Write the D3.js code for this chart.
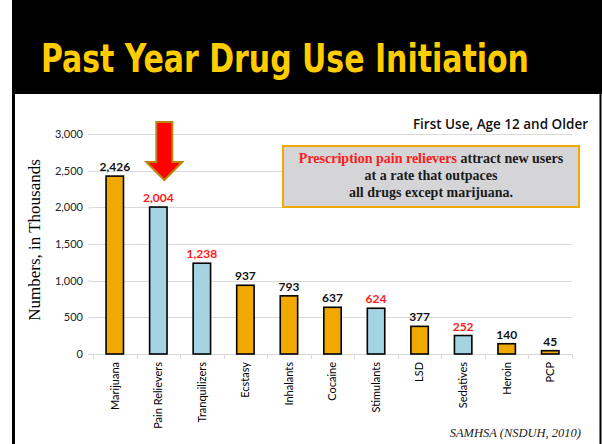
<!DOCTYPE html>
<html><head><meta charset="utf-8">
<script src="https://cdn.jsdelivr.net/npm/d3@7"></script>
<style>body{margin:0;background:#fff}svg{display:block}</style>
</head><body>
<svg id="c" width="602" height="444"></svg>
<script>
const categories = ["Marijuana","Pain Relievers","Tranquilizers","Ecstasy","Inhalants","Cocaine","Stimulants","LSD","Sedatives","Heroin","PCP"];
const values = [2426,2004,1238,937,793,637,624,377,252,140,45];
const highlighted = [false,true,true,false,false,false,true,false,true,false,false];
const yTicks = [0,500,1000,1500,2000,2500,3000];
const titleText = "Past Year Drug Use Initiation";
const subtitleText = "First Use, Age 12 and Older";
const noteLines = [["Prescription pain relievers"," attract new users"],["","at a rate that outpaces"],["","all drugs except marijuana."]];
const sourceText = "SAMHSA (NSDUH, 2010)";
const yAxisTitle = "Numbers, in Thousands";

const svg = d3.select("#c");
const ORANGE = "#f0a900", BLUE = "#a4d4e1";

// header
svg.append("rect").attr("x",12).attr("y",0).attr("width",590).attr("height",94).attr("fill","#000");
const title = svg.append("text").attr("x",0).attr("y",0).text(titleText)
  .attr("fill","#ffcc00").attr("font-family","'DejaVu Sans Condensed', 'DejaVu Sans'").attr("font-weight","bold")
  .attr("font-size",33);
const tw = title.node().getComputedTextLength();
title.attr("transform",`translate(41,72) scale(${488/tw},1.2)`);
// panel borders
svg.append("line").attr("x1",13.5).attr("x2",13.5).attr("y1",94).attr("y2",444).attr("stroke","#000").attr("stroke-width",3);
svg.append("line").attr("x1",600.5).attr("x2",600.5).attr("y1",94).attr("y2",444).attr("stroke","#000").attr("stroke-width",2);

const x = d3.scaleBand().domain(categories).range([93,572]).paddingInner(0.6).paddingOuter(0.3);
const xb = d3.scaleBand().domain(categories).range([93,572]);
const y = d3.scaleLinear().domain([0,3000]).range([354,134]);

// grid
svg.append("g").selectAll("line").data(yTicks.slice(1)).join("line")
  .attr("x1",93).attr("x2",572).attr("y1",d=>Math.round(y(d))+0.5).attr("y2",d=>Math.round(y(d))+0.5)
  .attr("stroke","#d9d9d9").attr("stroke-width",1);

// y axis
const ya = svg.append("g").attr("transform","translate(93,0)")
  .call(d3.axisLeft(y).tickValues(yTicks).tickFormat(d3.format(",")).tickSize(5).tickPadding(5));
ya.select(".domain").remove();
ya.selectAll(".tick line").attr("stroke","#d9d9d9");
ya.selectAll("text").attr("font-family","Lato").attr("font-size",11).attr("fill","#222");

// x axis
const xa = svg.append("g").attr("transform","translate(0,354)")
  .call(d3.axisBottom(xb).tickSize(0).tickPadding(0));
xa.select(".domain").attr("stroke","#d9d9d9");
xa.selectAll(".tick text").attr("font-family","Lato").attr("font-size",11).attr("fill","#000")
  .attr("transform","rotate(-90)").attr("text-anchor","end").attr("x",-8).attr("y",0).attr("dy","0.35em");
svg.append("g").selectAll("line").data(d3.range(categories.length+1)).join("line")
  .attr("x1",i=>Math.round(93+xb.step()*i)+0.5).attr("x2",i=>Math.round(93+xb.step()*i)+0.5)
  .attr("y1",354).attr("y2",359).attr("stroke","#d9d9d9");

// bars
svg.append("g").selectAll("rect").data(values).join("rect")
  .attr("x",(d,i)=>x(categories[i])).attr("width",x.bandwidth())
  .attr("y",d=>y(d)).attr("height",d=>y(0)-y(d))
  .attr("fill",(d,i)=>highlighted[i]?BLUE:ORANGE).attr("stroke","#000").attr("stroke-width",1.6);

// value labels
svg.append("g").selectAll("text").data(values).join("text")
  .attr("x",(d,i)=>x(categories[i])+x.bandwidth()/2).attr("y",d=>y(d)-5)
  .attr("text-anchor","middle").attr("font-family","Lato").attr("font-weight","bold").attr("font-size",12)
  .attr("fill",(d,i)=>highlighted[i]?"#ff1a1a":"#111").text(d=>d3.format(",")(d));

// y title
svg.append("text").attr("transform","translate(40,240) rotate(-90)").attr("text-anchor","middle")
  .attr("font-family","Liberation Serif").attr("font-size",17).attr("fill","#000").text(yAxisTitle);

// subtitle
svg.append("text").attr("x",588).attr("y",129).attr("text-anchor","end")
  .attr("font-family","Open Sans").attr("font-weight",600).attr("font-size",13.5).attr("fill","#111").text(subtitleText);

// note box
svg.append("rect").attr("x",283).attr("y",146).attr("width",296).attr("height",61)
  .attr("fill","#d5d5d8").attr("stroke","#f0a900").attr("stroke-width",2);
const nb = [163,180,197];
noteLines.forEach((ln,i)=>{
  const t = svg.append("text").attr("x",431).attr("y",nb[i]).attr("text-anchor","middle")
    .attr("font-family","Liberation Serif").attr("font-weight","bold").attr("font-size",14);
  if(ln[0]) t.append("tspan").attr("fill","#ff1a1a").text(ln[0]);
  t.append("tspan").attr("fill","#1a1a1a").text(ln[1]);
});

// arrow
const ax = x("Pain Relievers")+x.bandwidth()/2+6;
const arrow = d3.path();
arrow.moveTo(ax-8,122); arrow.lineTo(ax+8,122); arrow.lineTo(ax+8,162); arrow.lineTo(ax+18,162);
arrow.lineTo(ax,180); arrow.lineTo(ax-18,162); arrow.lineTo(ax-8,162); arrow.closePath();
svg.append("path").attr("d",arrow.toString()).attr("fill","#ff0000").attr("stroke","#b8860b").attr("stroke-width",2).attr("stroke-linejoin","miter");

// source
svg.append("text").attr("x",581).attr("y",437).attr("text-anchor","end")
  .attr("font-family","Liberation Serif").attr("font-style","italic").attr("font-size",12.5).attr("fill","#222").text(sourceText);
</script>
</body></html>
